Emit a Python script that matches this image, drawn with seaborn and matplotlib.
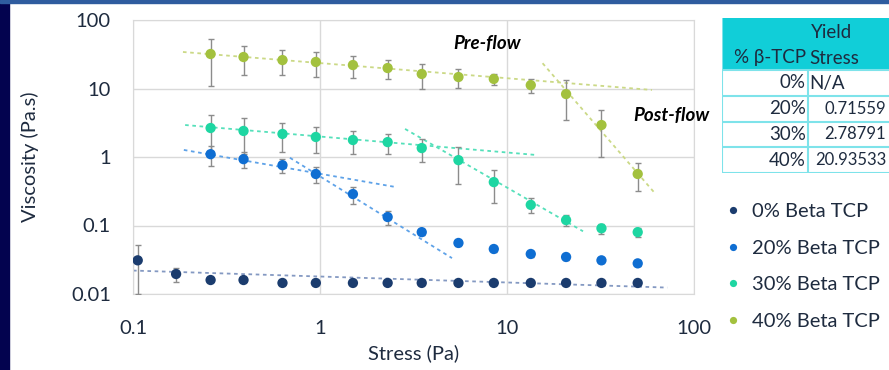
import numpy as np
import pandas as pd
import matplotlib
matplotlib.use('Agg')
import matplotlib.pyplot as plt
from matplotlib.patches import Rectangle
import seaborn as sns

# stress points (Pa), shared by all series
stress = [0.106, 0.17, 0.26, 0.39, 0.63, 0.95, 1.5, 2.3, 3.5, 5.5, 8.5, 13.4, 20.7, 32, 50]

series_names = ['0% Beta TCP', '20% Beta TCP', '30% Beta TCP', '40% Beta TCP']

v0 = [0.031, 0.0196, 0.016, 0.016, 0.0145, 0.0145, 0.0145, 0.0145, 0.0145, 0.0145,
      0.0145, 0.0145, 0.0145, 0.0145, 0.0145]
e0 = [0.021, 0.0045, 0.0005, 0.0005, 0.0004, 0.0004, 0.0004, 0.0004, 0.0004, 0.0004,
      0.0004, 0.0004, 0.0004, 0.0004, 0.0004]
v20 = [1.1, 0.93, 0.76, 0.565, 0.288, 0.133, 0.080, 0.0556, 0.0454, 0.0384, 0.0347, 0.031, 0.028]
e20 = [0.35, 0.25, 0.17, 0.15, 0.08, 0.03, 0.008, 0.005, 0.004, 0.004, 0.003, 0.003, 0.002]
v30 = [2.65, 2.4, 2.17, 1.96, 1.77, 1.65, 1.35, 0.90, 0.43, 0.20, 0.12, 0.091, 0.080]
e30 = [1.5, 1.3, 1.0, 0.8, 0.65, 0.55, 0.5, 0.5, 0.22, 0.05, 0.022, 0.015, 0.012]
v40 = [31.9, 28.8, 26.0, 24.4, 22.0, 19.9, 16.3, 14.7, 13.8, 11.2, 8.3, 2.93, 0.565]
e40 = [21, 13, 10.5, 9.6, 7.8, 6.1, 6.5, 4.6, 2.5, 2.6, 4.8, 1.93, 0.25]

# power-law trend lines y = a * x^b (series index, a, b, x start, x end)
trend_series = [0, 1, 1, 2, 2, 3, 3]
trend_a = [0.018, 0.569, 0.521, 1.99, 13.3, 23.5, 1.35e5]
trend_b = [-0.087, -0.478, -1.69, -0.233, -1.57, -0.221, -3.16]
trend_x0 = [0.1, 0.187, 0.69, 0.19, 2.85, 0.185, 15.5]
trend_x1 = [72, 2.52, 5.08, 14.5, 25.5, 59.6, 61.8]

# yield stress table
table_pct = ['0%', '20%', '30%', '40%']
table_yield = ['N/A', '0.71559', '2.78791', '20.93533']

colors = ['#1B3C6E', '#0F6ED2', '#1ED6A2', '#A3C13E']
trend_colors = ['#8499C2', '#5EA2E8', '#55E0BA', '#CBD986']
text_col = '#1E2B3F'
fs = 14.5

sns.set_style('white')
plt.rcParams['font.family'] = ['Lato', 'DejaVu Sans']

values = [v0, v20, v30, v40]
errors = [e0, e20, e30, e40]
rows = []
for name, v, e in zip(series_names, values, errors):
    xs = stress[len(stress) - len(v):]
    for x, y, er in zip(xs, v, e):
        rows.append([x, y, er, name])
df = pd.DataFrame(rows, columns=['stress', 'viscosity', 'err', 'series'])

fig = plt.figure(figsize=(8.89, 3.70), dpi=100)
fig.patch.set_facecolor('white')
# slide frame: dark strip on the left, blue rule on top
fig.add_artist(Rectangle((0, 0), 9 / 889, 1, transform=fig.transFigure, color='#03034F', zorder=0))
fig.add_artist(Rectangle((0, 1 - 2.5 / 370), 1, 2.5 / 370, transform=fig.transFigure, color='#2F5C9F', zorder=0))

ax = fig.add_axes([133 / 889, 76 / 370, 561 / 889, 274 / 370])
ax.set_xscale('log')
ax.set_yscale('log')

for i in range(len(trend_a)):
    xx = np.logspace(np.log10(trend_x0[i]), np.log10(trend_x1[i]), 50)
    ax.plot(xx, trend_a[i] * xx ** trend_b[i], ls=(0, (2, 2)), lw=1.3,
            color=trend_colors[trend_series[i]], zorder=2)

for name in series_names:
    d = df[df['series'] == name]
    ax.errorbar(d['stress'], d['viscosity'], yerr=d['err'], fmt='none', ecolor='#8C8C8C',
                elinewidth=1, capsize=2, capthick=1, zorder=3)

sns.scatterplot(data=df, x='stress', y='viscosity', hue='series', palette=colors,
                s=55, edgecolor='none', ax=ax, zorder=4)

ax.set_xlim(0.1, 100)
ax.set_ylim(0.01, 100)
ax.set_xticks([0.1, 1, 10, 100])
ax.set_xticklabels(['0.1', '1', '10', '100'])
ax.set_yticks([0.01, 0.1, 1, 10, 100])
ax.set_yticklabels(['0.01', '0.1', '1', '10', '100'])
ax.minorticks_off()
ax.tick_params(axis='x', length=0, pad=19, labelsize=fs, labelcolor=text_col)
ax.tick_params(axis='y', length=0, pad=16, labelsize=fs, labelcolor=text_col)
ax.grid(True, color='#D9D9D9', lw=1)
ax.set_axisbelow(True)
for s in ax.spines.values():
    s.set_color('#D9D9D9')
ax.set_xlabel('Stress (Pa)', fontsize=fs, color=text_col)
ax.set_ylabel('Viscosity (Pa.s)', fontsize=fs, color=text_col)
ax.xaxis.set_label_coords(0.5, -0.185)
ax.yaxis.set_label_coords(-0.167, 0.5)

ax.text(0.632, 0.915, 'Pre-flow', transform=ax.transAxes, fontsize=13.5, fontweight='bold',
        style='italic', ha='center', va='center', color='black')
ax.text(0.96, 0.65, 'Post-flow', transform=ax.transAxes, fontsize=13.5, fontweight='bold',
        style='italic', ha='center', va='center', color='black', clip_on=False)

handles, labels = ax.get_legend_handles_labels()
ax.legend(handles, labels, loc='upper left', bbox_to_anchor=(723 / 889, 167 / 370),
          bbox_transform=fig.transFigure, frameon=False, markerscale=0.7, fontsize=fs,
          borderpad=0, borderaxespad=0, handletextpad=0.45, labelspacing=0.97,
          labelcolor=text_col, handlelength=1.0)

# yield stress table, drawn in pixel units
tab = fig.add_axes([722 / 889, 197 / 370, 220 / 889, 155 / 370])
tab.set_xlim(0, 220)
tab.set_ylim(155, 0)
tab.axis('off')
cyan = '#11CED8'
tab.add_patch(Rectangle((0, 0), 220, 52, color=cyan, lw=0))
line_kw = dict(color='#7EE3EA', lw=1.5)
tab.plot([0, 0], [0, 155], **line_kw)
tab.plot([86, 86], [52, 155], **line_kw)
for yy in [52, 78, 104, 129, 155]:
    tab.plot([0, 220], [yy, yy], **line_kw)
tfs = 13.5
tab.text(110, 15, 'Yield', ha='center', va='center', fontsize=tfs, color=text_col)
tab.text(84, 40, '% β-TCP', ha='right', va='center', fontsize=tfs, color=text_col)
tab.text(87, 40, 'Stress', ha='left', va='center', fontsize=tfs, color=text_col)
row_y = [65, 91, 116, 142]
for p, yv, yy in zip(table_pct, table_yield, row_y):
    tab.text(84, yy, p, ha='right', va='center', fontsize=tfs, color=text_col)
    if yv == 'N/A':
        tab.text(87, yy, yv, ha='left', va='center', fontsize=tfs, color=text_col)
    else:
        tab.text(164, yy, yv, ha='right', va='center', fontsize=12, color=text_col)

fig.savefig('out.png', dpi=100)
